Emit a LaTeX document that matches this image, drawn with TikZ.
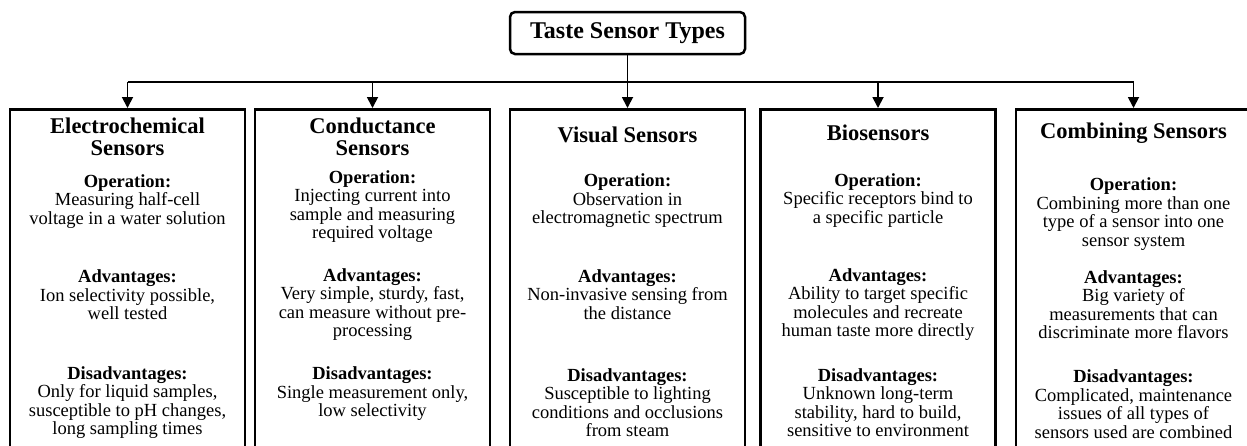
\documentclass[tikz,border=0pt]{standalone}
\usepackage{fontspec}
\setmainfont{Liberation Serif}
\usetikzlibrary{arrows.meta}
\newcommand\tightls{\lineskiplimit=-50pt\relax\lineskip=0pt\relax}
\begin{document}
\tightls
\begin{tikzpicture}[x=1pt,y=-1pt,
  sbox/.style={draw,line width=2.8pt,minimum width=235pt,minimum height=400pt,anchor=north,inner sep=0pt},
  ttl/.style={draw,line width=2.5pt,rounded corners=5pt,minimum width=235pt,minimum height=42pt,inner sep=0pt,font=\fontsize{24}{24}\selectfont\bfseries},
  hd/.style={align=center,inner sep=0pt,font=\fontsize{22.5}{22}\selectfont\bfseries\tightls},
  tx/.style={align=center,inner sep=0pt,font=\fontsize{18.5}{18.5}\selectfont\tightls},
  conn/.style={line width=1.8pt},
  arr/.style={line width=1.8pt,-{Triangle[length=11pt,width=11pt]}}
]
\useasboundingbox (0,0) rectangle (1247,445);
\fill[white] (0,0) rectangle (1247,445);
\clip (0,0) rectangle (1247,445);

\node[ttl] (title) at (627.5,33) {Taste Sensor Types};

\node[sbox] (b1) at (127.5,108) {};
\node[sbox] (b2) at (372.5,108) {};
\node[sbox] (b3) at (627.5,108) {};
\node[sbox] (b4) at (878,108) {};
\node[sbox] (b5) at (1133.5,108) {};

\coordinate (hl) at (627.5,82);
\draw[conn] (b1.north |- hl) -- (b5.north |- hl);
\draw[arr] (title.south) -- (b3.north);
\draw[arr] (b1.north |- hl) -- (b1.north);
\draw[arr] (b2.north |- hl) -- (b2.north);
\draw[arr] (b4.north |- hl) -- (b4.north);
\draw[arr] (b5.north |- hl) -- (b5.north);

% Box 1
\node[hd] (h1) at (127.5,137) {Electrochemical\\Sensors};
\node[tx] (o1) at (127.5,201.5) {\textbf{Operation:}\\Measuring half-cell\\voltage in a water solution};
\node[tx] (a1) at (127.5,295) {\textbf{Advantages:}\\Ion selectivity possible,\\well tested};
\node[tx] (d1) at (127.5,402.5) {\textbf{Disadvantages:}\\Only for liquid samples,\\susceptible to pH changes,\\long sampling times};

% Box 2
\node[hd] (h2) at (372.5,136.5) {Conductance\\Sensors};
\node[tx] (o2) at (372.5,206.5) {\textbf{Operation:}\\Injecting current into\\sample and measuring\\required voltage};
\node[tx] (a2) at (372.5,304.5) {\textbf{Advantages:}\\Very simple, sturdy, fast,\\can measure without pre-\\processing};
\node[tx] (d2) at (372.5,394) {\textbf{Disadvantages:}\\Single measurement only,\\low selectivity};

% Box 3
\node[hd] (h3) at (627.5,135) {Visual Sensors};
\node[tx] (o3) at (627.5,201) {\textbf{Operation:}\\Observation in\\electromagnetic spectrum};
\node[tx] (a3) at (627.5,294.5) {\textbf{Advantages:}\\Non-invasive sensing from\\the distance};
\node[tx] (d3) at (627.5,402.5) {\textbf{Disadvantages:}\\Susceptible to lighting\\conditions and occlusions\\from steam};

% Box 4
\node[hd] (h4) at (878,133) {Biosensors};
\node[tx] (o4) at (878,200.5) {\textbf{Operation:}\\Specific receptors bind to\\a specific particle};
\node[tx] (a4) at (878,304.5) {\textbf{Advantages:}\\Ability to target specific\\molecules and recreate\\human taste more directly};
\node[tx] (d4) at (878,402.5) {\textbf{Disadvantages:}\\Unknown long-term\\stability, hard to build,\\sensitive to environment};

% Box 5
\node[hd] (h5) at (1133.5,133) {Combining Sensors};
\node[tx] (o5) at (1133.5,214) {\textbf{Operation:}\\Combining more than one\\type of a sensor into one\\sensor system};
\node[tx] (a5) at (1133.5,304.5) {\textbf{Advantages:}\\Big variety of\\measurements that can\\discriminate more flavors};
\node[tx] (d5) at (1133.5,404) {\textbf{Disadvantages:}\\Complicated, maintenance\\issues of all types of\\sensors used are combined};
\end{tikzpicture}
\end{document}
